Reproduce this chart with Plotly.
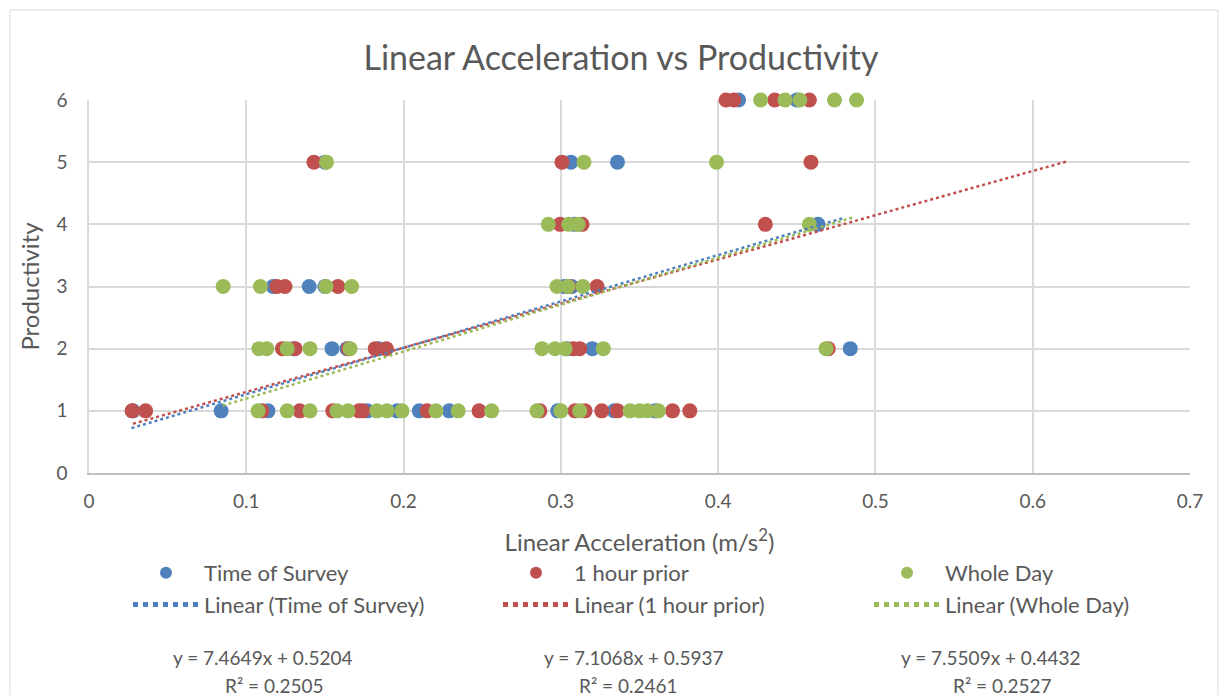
import numpy as np
import plotly.graph_objects as go

# ---------------- data ----------------
series_names = ["Time of Survey", "1 hour prior", "Whole Day"]
colors = ["#4F81BD", "#C0504D", "#9BBB59"]

tos_x = [0.028, 0.084, 0.1138, 0.177, 0.196, 0.21, 0.229, 0.298, 0.334, 0.360,
         0.130, 0.1545, 0.164, 0.184, 0.304, 0.320, 0.484,
         0.117, 0.140, 0.150, 0.302, 0.307,
         0.309, 0.4635,
         0.150, 0.3064, 0.336,
         0.413, 0.450]
tos_y = [1, 1, 1, 1, 1, 1, 1, 1, 1, 1,
         2, 2, 2, 2, 2, 2, 2,
         3, 3, 3, 3, 3,
         4, 4,
         5, 5, 5,
         6, 6]

hp_x = [0.0274, 0.036, 0.110, 0.134, 0.155, 0.1717, 0.174, 0.215, 0.248, 0.2867,
        0.309, 0.3154, 0.326, 0.336, 0.371, 0.382,
        0.123, 0.131, 0.165, 0.182, 0.189, 0.308, 0.312, 0.470,
        0.1195, 0.1246, 0.1583, 0.305, 0.323,
        0.2995, 0.3135, 0.430,
        0.143, 0.3007, 0.459,
        0.405, 0.410, 0.436, 0.458]
hp_y = [1, 1, 1, 1, 1, 1, 1, 1, 1, 1,
        1, 1, 1, 1, 1, 1,
        2, 2, 2, 2, 2, 2, 2, 2,
        3, 3, 3, 3, 3,
        4, 4, 4,
        5, 5, 5,
        6, 6, 6, 6]

wd_x = [0.1075, 0.126, 0.1405, 0.1577, 0.1647, 0.183, 0.1895, 0.199, 0.2206, 0.2347,
        0.256, 0.2848, 0.300, 0.312, 0.344, 0.350, 0.355, 0.362,
        0.108, 0.113, 0.126, 0.1405, 0.166, 0.288, 0.2963, 0.3027, 0.327, 0.4686,
        0.0853, 0.109, 0.1507, 0.167, 0.2975, 0.3045, 0.314,
        0.292, 0.305, 0.311, 0.458,
        0.151, 0.3147, 0.399,
        0.427, 0.4425, 0.452, 0.474, 0.488]
wd_y = [1, 1, 1, 1, 1, 1, 1, 1, 1, 1,
        1, 1, 1, 1, 1, 1, 1, 1,
        2, 2, 2, 2, 2, 2, 2, 2, 2, 2,
        3, 3, 3, 3, 3, 3, 3,
        4, 4, 4, 4,
        5, 5, 5,
        6, 6, 6, 6, 6]

# trendline equations (as displayed) and x extents
slopes = [7.4649, 7.1068, 7.5509]
intercepts = [0.5204, 0.5937, 0.4432]
r2_values = ["0.2505", "0.2461", "0.2527"]
trend_x_min = [0.027, 0.028, 0.085]
trend_x_max = [0.480, 0.622, 0.486]

x_ticks = [0, 0.1, 0.2, 0.3, 0.4, 0.5, 0.6, 0.7]
y_ticks = [0, 1, 2, 3, 4, 5, 6]

# ---------------- figure ----------------
FONT = "Lato, Carlito, Calibri, sans-serif"
TXT = "#595959"
legend_ids = ["legend", "legend2", "legend3"]

fig = go.Figure()
xs = [tos_x, hp_x, wd_x]
ys = [tos_y, hp_y, wd_y]
for name, c, x, y, lg in zip(series_names, colors, xs, ys, legend_ids):
    fig.add_trace(go.Scatter(x=x, y=y, mode="markers", name=name, legend=lg,
                             cliponaxis=False,
                             marker=dict(color=c, size=15, line=dict(width=0))))

for name, c, m, b, x0, x1, lg in zip(series_names, colors, slopes, intercepts,
                                      trend_x_min, trend_x_max, legend_ids):
    tx = np.array([x0, x1])
    fig.add_trace(go.Scatter(x=tx, y=m * tx + b, mode="lines", legend=lg,
                             name=f"Linear ({name})",
                             line=dict(color=c, width=2.5, dash="dot")))

# equation labels
eq_x1 = [(262 - 89) / 1101, (633 - 89) / 1101, (990 - 89) / 1101]
eq_x2 = [(274 - 89) / 1101, (628 - 89) / 1101, (1002 - 89) / 1101]
for e1, e2, m, b, r2 in zip(eq_x1, eq_x2, slopes, intercepts, r2_values):
    fig.add_annotation(x=e1, y=-(657 - 473) / 373, xref="paper", yref="paper",
                       text=f"y = {m:.4f}x + {b:.4f}", showarrow=False,
                       font=dict(family=FONT, size=19, color=TXT),
                       xanchor="center", yanchor="middle")
    fig.add_annotation(x=e2, y=-(685 - 473) / 373, xref="paper", yref="paper",
                       text=f"R² = {r2}", showarrow=False,
                       font=dict(family=FONT, size=19, color=TXT),
                       xanchor="center", yanchor="middle")

# chart area border
fig.add_shape(type="rect", xref="paper", yref="paper",
              x0=-0.0718, x1=1.0254, y0=-0.62, y1=1.2413,
              line=dict(color="#D9D9D9", width=1), layer="below")

legend_common = dict(orientation="v", y=-(552 - 473) / 373, yanchor="top", xanchor="left",
                     font=dict(family=FONT, size=22, color=TXT),
                     bgcolor="rgba(0,0,0,0)", itemwidth=66, itemsizing="constant")
legend_x = [(128 - 89) / 1101, (498 - 89) / 1101, (869 - 89) / 1101]

fig.update_layout(
    width=1229, height=695,
    margin=dict(l=89, r=39, t=100, b=222),
    paper_bgcolor="white", plot_bgcolor="white",
    font=dict(family=FONT, color=TXT, size=16),
    title=dict(text="Linear Acceleration vs Productivity",
               x=621 / 1229, xanchor="center", y=1 - 58 / 695, yanchor="middle",
               font=dict(family=FONT, size=34, color=TXT)),
    xaxis=dict(range=[0, 0.7], tickvals=x_ticks,
               ticktext=[f"{v:g}" for v in x_ticks],
               showgrid=True, gridcolor="#D9D9D9", gridwidth=1.5,
               zeroline=False, showline=True, linecolor="#BFBFBF", linewidth=1.5,
               ticks="", ticklabelstandoff=10,
               tickfont=dict(family=FONT, size=19, color=TXT),
               title=dict(text="Linear Acceleration (m/s<sup>2</sup>)",
                          font=dict(family=FONT, size=24, color=TXT), standoff=24)),
    yaxis=dict(range=[0, 6], tickvals=y_ticks,
               showgrid=True, gridcolor="#D9D9D9", gridwidth=1.5,
               zeroline=False, showline=True, linecolor="#D9D9D9", linewidth=1.5,
               ticks="", ticklabelstandoff=16,
               tickfont=dict(family=FONT, size=19, color=TXT),
               title=dict(text="Productivity",
                          font=dict(family=FONT, size=24, color=TXT), standoff=10)),
    showlegend=True,
    legend=dict(x=legend_x[0], **legend_common),
    legend2=dict(x=legend_x[1], **legend_common),
    legend3=dict(x=legend_x[2], **legend_common),
)

fig.write_html("out.html")
